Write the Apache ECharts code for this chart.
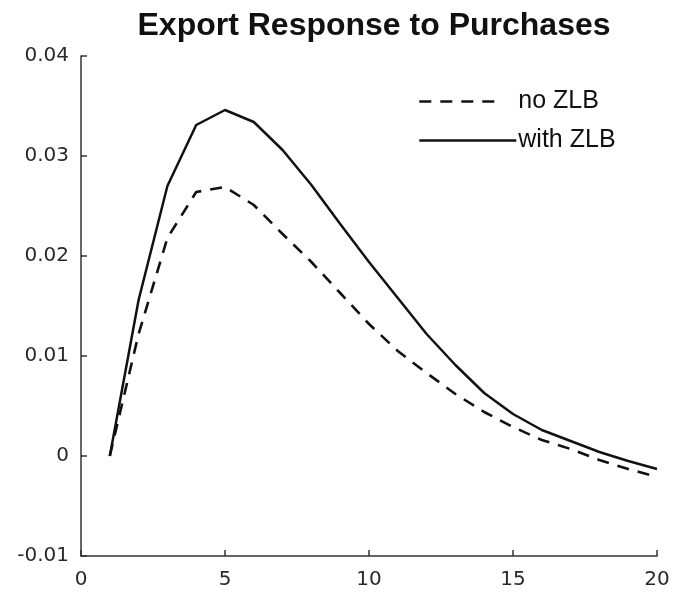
<!DOCTYPE html>
<html>
<head>
<meta charset="utf-8">
<script src="https://cdn.jsdelivr.net/npm/echarts@6/dist/echarts.min.js"></script>
<style>
  html, body { margin: 0; padding: 0; background: #fff; }
  #chart { width: 675px; height: 602px; }
</style>
</head>
<body>
<div id="chart"></div>
<script>
(function () {
    // horizon 1..20
    var periods = [1, 2, 3, 4, 5, 6, 7, 8, 9, 10, 11, 12, 13, 14, 15, 16, 17, 18, 19, 20];
    var noZlb = [0, 0.0122, 0.0218, 0.0264, 0.0269, 0.0251, 0.0222, 0.0194, 0.0163, 0.0132,
        0.0105, 0.0083, 0.0062, 0.0044, 0.0029, 0.0016, 0.0007, -0.0004, -0.0013, -0.0021];
    var withZlb = [0, 0.0156, 0.0270, 0.0331, 0.0346, 0.0334, 0.0306, 0.0271, 0.0232, 0.0194,
        0.0158, 0.0122, 0.0091, 0.0063, 0.0042, 0.0026, 0.0015, 0.0004, -0.0005, -0.0013];
    var seriesNames = ['no ZLB', 'with ZLB'];

    var pairs = function (ys) {
        return periods.map(function (p, i) { return [p, ys[i]]; });
    };

    var axisColor = '#333';
    var labelFont = { color: '#2a2a2a', fontSize: 20, fontFamily: 'DejaVu Sans' };
    var legendText = { fontFamily: 'Liberation Sans', fontSize: 25, color: '#111' };

    var chart = echarts.init(document.getElementById('chart'), null, { renderer: 'canvas' });
    chart.setOption({
        animation: false,
        backgroundColor: '#fff',
        title: {
            text: 'Export Response to Purchases',
            left: 369,
            textAlign: 'center',
            top: 5,
            textStyle: { fontFamily: 'Liberation Sans', fontWeight: 'bold', fontSize: 32, color: '#111' }
        },
        // two legends so each key line gets its own length
        legend: [
            {
                data: [seriesNames[0]],
                left: 413,
                top: 84,
                itemWidth: 84,
                itemHeight: 20,
                itemStyle: { opacity: 0 },
                lineStyle: { width: 2.6 },
                textStyle: Object.assign({ padding: [0, 0, 0, 10] }, legendText)
            },
            {
                data: [seriesNames[1]],
                left: 413,
                top: 123,
                itemWidth: 97,
                itemHeight: 24,
                itemStyle: { opacity: 0 },
                lineStyle: { width: 2.6 },
                textStyle: Object.assign({ padding: [0, 0, 0, -3] }, legendText)
            }
        ],
        grid: { left: 81, right: 18, top: 56, bottom: 46 },
        xAxis: {
            type: 'value',
            min: 0,
            max: 20,
            interval: 5,
            splitLine: { show: false },
            axisLine: { onZero: false, lineStyle: { color: axisColor, width: 1.5 } },
            axisTick: { inside: true, length: 6, lineStyle: { color: axisColor, width: 1.5 } },
            axisLabel: Object.assign({ margin: 14 }, labelFont)
        },
        yAxis: {
            type: 'value',
            min: -0.01,
            max: 0.04,
            interval: 0.01,
            splitLine: { show: false },
            axisLine: { show: true, onZero: false, lineStyle: { color: axisColor, width: 1.5 } },
            axisTick: { show: true, inside: true, length: 6, lineStyle: { color: axisColor, width: 1.5 } },
            axisLabel: Object.assign({
                margin: 12,
                formatter: function (v) {
                    if (Math.abs(v) < 1e-9) return '0';
                    return v.toFixed(2);
                }
            }, labelFont)
        },
        series: [
            {
                name: seriesNames[0],
                type: 'line',
                data: pairs(noZlb),
                symbol: 'none',
                lineStyle: { color: '#111', width: 2.6, type: [12, 9] },
                itemStyle: { color: '#111' }
            },
            {
                name: seriesNames[1],
                type: 'line',
                data: pairs(withZlb),
                symbol: 'none',
                lineStyle: { color: '#111', width: 2.5, type: 'solid' },
                itemStyle: { color: '#111' }
            }
        ]
    });
})();
</script>
</body>
</html>
